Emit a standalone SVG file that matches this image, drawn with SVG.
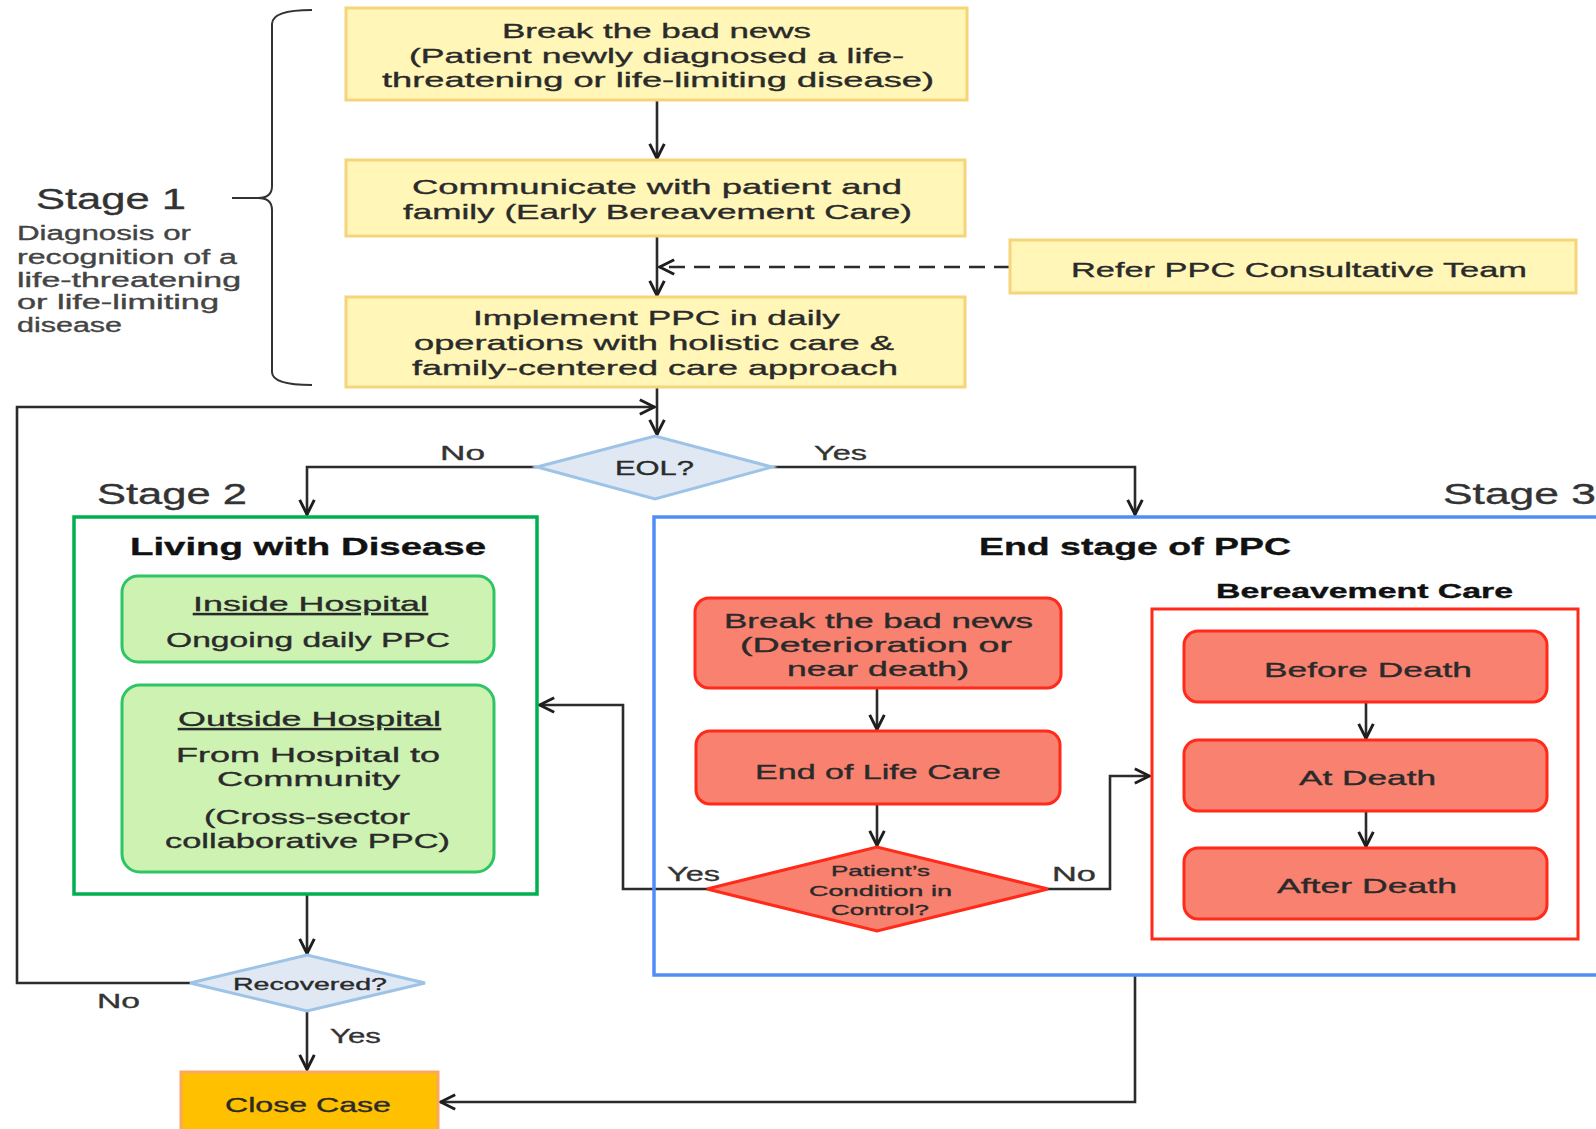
<svg xmlns="http://www.w3.org/2000/svg" width="1596" height="1129" viewBox="0 0 1596 1129">
<defs>
<marker id="ah" viewBox="0 0 16 16" refX="15" refY="8" markerWidth="18" markerHeight="18" markerUnits="userSpaceOnUse" orient="auto">
<path d="M1.5,1.5 L14.5,8 L1.5,14.5" fill="none" stroke="#1e1e1e" stroke-width="2.6"/>
</marker>
<style>
text{font-family:"Liberation Sans","Open Sans",sans-serif;fill:#2a2a2a;stroke:#2a2a2a;stroke-width:0.35;}
.t{font-size:21px;}
.stage{font-size:30px;fill:#333;stroke:#333;}
.desc{font-size:20px;fill:#444;stroke:#444;}
.lbl{font-size:21px;fill:#333;stroke:#333;}
.hd{font-size:24px;font-weight:bold;fill:#111;stroke:#111;}
.yel{fill:#fff6b8;stroke:#f6d47a;stroke-width:3;}
.grn{fill:#cdf2b2;stroke:#2fc466;stroke-width:3;}
.red{fill:#f88170;stroke:#ff2a1a;stroke-width:3;}
.conn{fill:none;stroke:#2b2b2b;stroke-width:2.6;}
.u{text-decoration:underline;}
</style>
</defs>
<rect width="1596" height="1129" fill="#fff"/>

<g id="stage1-label">
<path d="M312,10 Q272,10 272,24 L272,186 Q272,198 258,198 Q272,198 272,210 L272,372 Q272,385 312,385" fill="none" stroke="#333" stroke-width="2"/>
<line x1="232" y1="198" x2="258" y2="198" stroke="#333" stroke-width="2"/>
<text class="stage" x="36" y="209" textLength="150" lengthAdjust="spacingAndGlyphs">Stage 1</text>
<text class="desc" x="17" y="240" textLength="174" lengthAdjust="spacingAndGlyphs">Diagnosis or</text>
<text class="desc" x="17" y="264" textLength="220" lengthAdjust="spacingAndGlyphs">recognition of a</text>
<text class="desc" x="17" y="287" textLength="224" lengthAdjust="spacingAndGlyphs">life-threatening</text>
<text class="desc" x="17" y="309" textLength="202" lengthAdjust="spacingAndGlyphs">or life-limiting</text>
<text class="desc" x="17" y="332" textLength="105" lengthAdjust="spacingAndGlyphs">disease</text>
</g>

<g id="connectors">
<path class="conn" d="M657,100 L657,159" marker-end="url(#ah)"/>
<path class="conn" d="M657,236 L657,296" marker-end="url(#ah)"/>
<path class="conn" d="M1010,267 L659,267" stroke-dasharray="16,9" marker-end="url(#ah)"/>
<path class="conn" d="M657,387 L657,435" marker-end="url(#ah)"/>
<path class="conn" d="M190,983 L17,983 L17,407 L655,407" marker-end="url(#ah)"/>
<path class="conn" d="M537,467 L307,467 L307,515" marker-end="url(#ah)"/>
<path class="conn" d="M772,467 L1135,467 L1135,515" marker-end="url(#ah)"/>
<path class="conn" d="M877,688 L877,730" marker-end="url(#ah)"/>
<path class="conn" d="M877,804 L877,846" marker-end="url(#ah)"/>
<path class="conn" d="M707,889 L623,889 L623,705 L539,705" marker-end="url(#ah)"/>
<path class="conn" d="M1048,889 L1110,889 L1110,776 L1150,776" marker-end="url(#ah)"/>
<path class="conn" d="M1366,702 L1366,739" marker-end="url(#ah)"/>
<path class="conn" d="M1366,811 L1366,847" marker-end="url(#ah)"/>
<path class="conn" d="M307,894 L307,954" marker-end="url(#ah)"/>
<path class="conn" d="M307,1011 L307,1070" marker-end="url(#ah)"/>
<path class="conn" d="M1135,975 L1135,1102 L440,1102" marker-end="url(#ah)"/>
<text class="lbl" x="440" y="460" textLength="45" lengthAdjust="spacingAndGlyphs">No</text>
<text class="lbl" x="814" y="460" textLength="53" lengthAdjust="spacingAndGlyphs">Yes</text>
<text class="lbl" x="667" y="881" textLength="53" lengthAdjust="spacingAndGlyphs">Yes</text>
<text class="lbl" x="1052" y="881" textLength="44" lengthAdjust="spacingAndGlyphs">No</text>
<text class="lbl" x="97" y="1008" textLength="43" lengthAdjust="spacingAndGlyphs">No</text>
<text class="lbl" x="330" y="1043" textLength="51" lengthAdjust="spacingAndGlyphs">Yes</text>
</g>

<g id="box1">
<rect class="yel" x="346" y="8" width="621" height="92"/>
<text class="t" x="502" y="38" textLength="309" lengthAdjust="spacingAndGlyphs">Break the bad news</text>
<text class="t" x="409" y="63" textLength="495" lengthAdjust="spacingAndGlyphs">(Patient newly diagnosed a life-</text>
<text class="t" x="382" y="87" textLength="552" lengthAdjust="spacingAndGlyphs">threatening or life-limiting disease)</text>
</g>

<g id="box2">
<rect class="yel" x="346" y="160" width="619" height="76"/>
<text class="t" x="412" y="194" textLength="490" lengthAdjust="spacingAndGlyphs">Communicate with patient and</text>
<text class="t" x="403" y="219" textLength="509" lengthAdjust="spacingAndGlyphs">family (Early Bereavement Care)</text>
</g>

<g id="refer">
<rect class="yel" x="1010" y="240" width="566" height="53"/>
<text class="t" x="1071" y="277" textLength="456" lengthAdjust="spacingAndGlyphs">Refer PPC Consultative Team</text>
</g>

<g id="box3">
<rect class="yel" x="346" y="297" width="619" height="90"/>
<text class="t" x="473" y="325" textLength="367" lengthAdjust="spacingAndGlyphs">Implement PPC in daily</text>
<text class="t" x="414" y="350" textLength="480" lengthAdjust="spacingAndGlyphs">operations with holistic care &amp;</text>
<text class="t" x="412" y="375" textLength="486" lengthAdjust="spacingAndGlyphs">family-centered care approach</text>
</g>

<g id="eol">
<polygon points="537,467 655,436 772,467 655,499" fill="#dfe8f3" stroke="#9dc3e6" stroke-width="3"/>
<text x="615" y="475" textLength="79" lengthAdjust="spacingAndGlyphs" style="font-size:20px">EOL?</text>
</g>

<g id="stage2">
<text class="stage" x="97" y="504" textLength="150" lengthAdjust="spacingAndGlyphs">Stage 2</text>
<rect x="74" y="517" width="463" height="377" fill="none" stroke="#00b050" stroke-width="3.5"/>
<text class="hd" x="130" y="555" textLength="356" lengthAdjust="spacingAndGlyphs">Living with Disease</text>
</g>

<g id="inside">
<rect class="grn" x="122" y="576" width="372" height="86" rx="16"/>
<text class="t u" x="193" y="611" textLength="235" lengthAdjust="spacingAndGlyphs">Inside Hospital</text>
<text class="t" x="166" y="647" textLength="284" lengthAdjust="spacingAndGlyphs">Ongoing daily PPC</text>
</g>

<g id="outside">
<rect class="grn" x="122" y="685" width="372" height="187" rx="18"/>
<text class="t u" x="178" y="726" textLength="263" lengthAdjust="spacingAndGlyphs">Outside Hospital</text>
<text class="t" x="176" y="762" textLength="264" lengthAdjust="spacingAndGlyphs">From Hospital to</text>
<text class="t" x="217" y="786" textLength="183" lengthAdjust="spacingAndGlyphs">Community</text>
<text class="t" x="204" y="824" textLength="206" lengthAdjust="spacingAndGlyphs">(Cross-sector</text>
<text class="t" x="165" y="848" textLength="285" lengthAdjust="spacingAndGlyphs">collaborative PPC)</text>
</g>

<g id="stage3">
<text class="stage" x="1443" y="504" textLength="153" lengthAdjust="spacingAndGlyphs">Stage 3</text>
<rect x="654" y="517" width="960" height="458" fill="none" stroke="#4f8ef7" stroke-width="3.5"/>
<text class="hd" x="979" y="555" textLength="312" lengthAdjust="spacingAndGlyphs">End stage of PPC</text>
</g>

<g id="breaknews2">
<rect class="red" x="695" y="598" width="366" height="90" rx="14"/>
<text class="t" x="724" y="628" textLength="309" lengthAdjust="spacingAndGlyphs">Break the bad news</text>
<text class="t" x="740" y="652" textLength="272" lengthAdjust="spacingAndGlyphs">(Deterioration or</text>
<text class="t" x="787" y="676" textLength="182" lengthAdjust="spacingAndGlyphs">near death)</text>
</g>

<g id="eolcare">
<rect class="red" x="696" y="731" width="364" height="73" rx="14"/>
<text class="t" x="755" y="779" textLength="246" lengthAdjust="spacingAndGlyphs">End of Life Care</text>
</g>

<g id="condition">
<polygon class="red" points="707,889 877,847 1048,889 877,931"/>
<text x="831" y="876" textLength="99" lengthAdjust="spacingAndGlyphs" style="font-size:15px">Patient’s</text>
<text x="809" y="896" textLength="143" lengthAdjust="spacingAndGlyphs" style="font-size:15px">Condition in</text>
<text x="831" y="915" textLength="98" lengthAdjust="spacingAndGlyphs" style="font-size:15px">Control?</text>
</g>

<g id="bereavement">
<text x="1216" y="598" textLength="297" lengthAdjust="spacingAndGlyphs" style="font-size:20px;font-weight:bold;fill:#111;stroke:#111">Bereavement Care</text>
<rect x="1152" y="609" width="426" height="330" fill="none" stroke="#ff2a1a" stroke-width="3"/>
</g>

<g id="before">
<rect class="red" x="1184" y="631" width="363" height="71" rx="14"/>
<text class="t" x="1264" y="677" textLength="208" lengthAdjust="spacingAndGlyphs">Before Death</text>
</g>
<g id="at">
<rect class="red" x="1184" y="740" width="363" height="71" rx="14"/>
<text class="t" x="1299" y="785" textLength="137" lengthAdjust="spacingAndGlyphs">At Death</text>
</g>
<g id="after">
<rect class="red" x="1184" y="848" width="363" height="71" rx="14"/>
<text class="t" x="1277" y="893" textLength="180" lengthAdjust="spacingAndGlyphs">After Death</text>
</g>

<g id="recovered">
<polygon points="190,983 307,955 425,983 307,1011" fill="#dfe8f3" stroke="#9dc3e6" stroke-width="3"/>
<text x="233" y="990" textLength="154" lengthAdjust="spacingAndGlyphs" style="font-size:17px">Recovered?</text>
</g>

<g id="closecase">
<rect x="181" y="1072" width="257" height="70" fill="#ffc000" stroke="#f8a860" stroke-width="3"/>
<text class="t" x="225" y="1112" textLength="166" lengthAdjust="spacingAndGlyphs">Close Case</text>
</g>
</svg>
